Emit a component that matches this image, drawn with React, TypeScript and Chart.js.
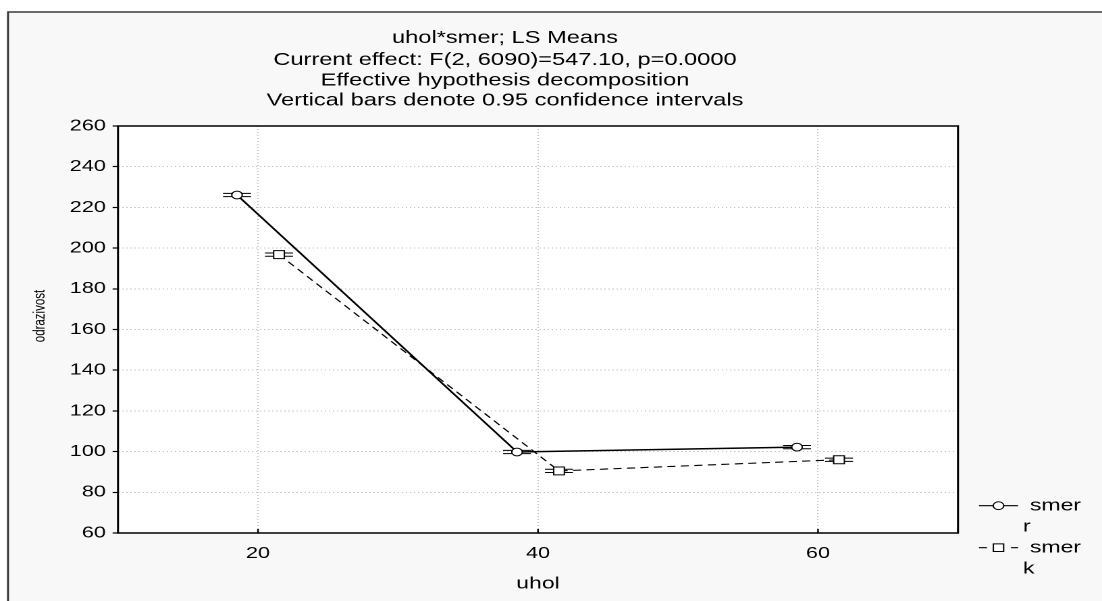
import React, { useEffect, useRef } from "react";
import { Chart, registerables } from "chart.js";

Chart.register(...registerables);

// ---------- data ----------
const categories = [20, 40, 60];
const seriesNames = ["smer r", "smer k"];
const smerR = [226.1, 99.8, 102.2];
const smerK = [196.8, 90.5, 96.0];
const ciR = [0.8, 0.8, 0.8];
const ciK = [0.8, 0.8, 0.8];
const xTicks = [20, 40, 60];
const yTicks = [60, 80, 100, 120, 140, 160, 180, 200, 220, 240, 260];
const titleLines = [
  "uhol*smer; LS Means",
  "Current effect: F(2, 6090)=547.10, p=0.0000",
  "Effective hypothesis decomposition",
  "Vertical bars denote 0.95 confidence intervals",
];
const xTitle = "uhol";
const yTitle = "odrazivost";

// ---------- layout ----------
const OUT_W = 1102;
const H = 601;
const W0 = 816; // unstretched canvas width
const S = OUT_W / W0; // horizontal stretch of the original picture
const DODGE = 1.5;
const FONT = '"Liberation Sans", Arial, Helvetica, sans-serif';
const ux = (x: number) => x / S;

const CHART_LEFT = ux(118);
const CHART_RIGHT = ux(958);
const CHART_TOP = 126;
const CHART_BOTTOM = 533;

const backgroundPlugin = {
  id: "bgFrame",
  beforeDraw(chart: any) {
    const { ctx, chartArea } = chart;
    ctx.save();
    ctx.fillStyle = "#ffffff";
    ctx.fillRect(0, 0, chart.width, chart.height);
    ctx.fillStyle = "#f8f8f8";
    ctx.fillRect(ux(8), 12, chart.width, chart.height);
    ctx.strokeStyle = "#3a3a3a";
    ctx.lineWidth = 1.5;
    ctx.beginPath();
    ctx.moveTo(ux(8), H);
    ctx.lineTo(ux(8), 12);
    ctx.lineTo(chart.width + 5, 12);
    ctx.stroke();
    ctx.fillStyle = "#ffffff";
    ctx.fillRect(chartArea.left, chartArea.top, chartArea.right - chartArea.left, chartArea.bottom - chartArea.top);
    ctx.restore();
  },
};

const errorBarPlugin = {
  id: "errBars",
  beforeDatasetsDraw(chart: any) {
    const { ctx } = chart;
    const yScale = chart.scales.y;
    const cis = [ciR, ciK];
    const vals = [smerR, smerK];
    const half = ux(14);
    ctx.save();
    ctx.strokeStyle = "#000";
    ctx.lineWidth = 1;
    chart.data.datasets.forEach((_ds: any, di: number) => {
      const meta = chart.getDatasetMeta(di);
      meta.data.forEach((pt: any, i: number) => {
        const v = vals[di][i];
        const c = cis[di][i];
        const yt = yScale.getPixelForValue(v + c);
        const yb = yScale.getPixelForValue(v - c);
        ctx.beginPath();
        ctx.moveTo(pt.x - half, yt);
        ctx.lineTo(pt.x + half, yt);
        ctx.moveTo(pt.x - half, yb);
        ctx.lineTo(pt.x + half, yb);
        ctx.moveTo(pt.x, yt);
        ctx.lineTo(pt.x, yb);
        ctx.stroke();
      });
    });
    ctx.restore();
  },
};

const decorPlugin = {
  id: "decor",
  afterDraw(chart: any) {
    const { ctx, chartArea } = chart;
    const xScale = chart.scales.x;
    ctx.save();
    // plot border
    ctx.strokeStyle = "#000";
    ctx.lineWidth = 1.5;
    ctx.strokeRect(chartArea.left, chartArea.top, chartArea.right - chartArea.left, chartArea.bottom - chartArea.top);
    // inward x ticks
    ctx.lineWidth = 1.2;
    ctx.beginPath();
    xTicks.forEach((v) => {
      const px = xScale.getPixelForValue(v);
      ctx.moveTo(px, chartArea.bottom);
      ctx.lineTo(px, chartArea.bottom - 4);
    });
    ctx.stroke();

    // titles
    ctx.fillStyle = "#000";
    ctx.textAlign = "center";
    ctx.textBaseline = "middle";
    ctx.font = `17.5px ${FONT}`;
    const ty = [38.3, 60, 80.7, 100.7];
    titleLines.forEach((t, i) => ctx.fillText(t, ux(505), ty[i]));

    // y axis title
    ctx.save();
    ctx.translate(ux(40), 316);
    ctx.rotate(-Math.PI / 2);
    ctx.font = `11.5px ${FONT}`;
    ctx.fillText(yTitle, 0, 0);
    ctx.restore();

    // legend
    ctx.font = `17px ${FONT}`;
    ctx.textAlign = "left";
    const rows = [505.7, 547.7];
    const x1 = ux(979);
    const x2 = ux(1018);
    const xc = (x1 + x2) / 2;
    seriesNames.forEach((name, i) => {
      const y = rows[i];
      const parts = name.split(" ");
      ctx.strokeStyle = "#000";
      ctx.lineWidth = 1.2;
      ctx.beginPath();
      if (i === 1) ctx.setLineDash([ux(8), ux(24)]);
      ctx.moveTo(x1, y);
      ctx.lineTo(x2, y);
      ctx.stroke();
      ctx.setLineDash([]);
      ctx.fillStyle = "#fff";
      ctx.lineWidth = 1;
      ctx.beginPath();
      if (i === 0) {
        ctx.arc(xc, y, 3.9, 0, Math.PI * 2);
      } else {
        ctx.rect(xc - 3.8, y - 3.8, 7.6, 7.6);
      }
      ctx.fill();
      ctx.stroke();
      ctx.fillStyle = "#000";
      ctx.fillText(parts[0], ux(1030), y);
      ctx.fillText(parts[1], ux(1023), y + 21);
    });
    ctx.restore();
  },
};

export default function App() {
  const ref = useRef<HTMLCanvasElement>(null);

  useEffect(() => {
    if (!ref.current) return;
    const chart = new Chart(ref.current, {
      type: "line",
      data: {
        datasets: [
          {
            label: seriesNames[0],
            data: categories.map((c, i) => ({ x: c - DODGE, y: smerR[i] })),
            borderColor: "#000",
            borderWidth: 1.5,
            pointStyle: "circle",
            pointRadius: 3.9,
            pointBackgroundColor: "#fff",
            pointBorderColor: "#000",
            pointBorderWidth: 1,
            tension: 0,
          },
          {
            label: seriesNames[1],
            data: categories.map((c, i) => ({ x: c + DODGE, y: smerK[i] })),
            borderColor: "#000",
            borderWidth: 1.1,
            borderDash: [6, 4],
            pointStyle: "rect",
            pointRadius: 5.6,
            pointBackgroundColor: "#fff",
            pointBorderColor: "#000",
            pointBorderWidth: 1,
            tension: 0,
          },
        ],
      },
      options: {
        animation: false,
        responsive: false,
        devicePixelRatio: 2,
        layout: {
          padding: { left: 0, right: W0 - CHART_RIGHT, top: CHART_TOP, bottom: 0 },
        },
        plugins: {
          legend: { display: false },
          title: { display: false },
          tooltip: { enabled: false },
        },
        scales: {
          x: {
            type: "linear",
            min: 10,
            max: 70,
            afterBuildTicks: (s: any) => {
              s.ticks = xTicks.map((v) => ({ value: v }));
            },
            afterFit: (s: any) => {
              s.height = H - CHART_BOTTOM;
            },
            grid: { color: "#c4c4c4", lineWidth: 1, drawTicks: false },
            border: { display: false, dash: [1, 2] },
            ticks: {
              color: "#000",
              font: { family: FONT, size: 16 },
              padding: 11,
              maxRotation: 0,
            },
            title: {
              display: true,
              text: xTitle,
              color: "#000",
              font: { family: FONT, size: 17 },
              padding: { top: 0, bottom: 7 },
            },
          },
          y: {
            type: "linear",
            min: 60,
            max: 260,
            afterBuildTicks: (s: any) => {
              s.ticks = yTicks.map((v) => ({ value: v }));
            },
            afterFit: (s: any) => {
              s.width = CHART_LEFT;
            },
            grid: {
              color: "#c4c4c4",
              lineWidth: 1,
              drawTicks: true,
              tickLength: 4,
              tickColor: "#000",
              tickWidth: 1.2,
            },
            border: { display: false, dash: [1, 2] },
            ticks: {
              color: "#000",
              font: { family: FONT, size: 16 },
              padding: 5,
            },
          },
        },
      },
      plugins: [backgroundPlugin, errorBarPlugin, decorPlugin],
    } as any);
    return () => chart.destroy();
  }, []);

  return (
    <div
      style={{
        position: "fixed",
        left: 0,
        top: 0,
        width: OUT_W,
        height: H,
        overflow: "hidden",
        background: "#fff",
      }}
    >
      <div style={{ width: W0, height: H, transform: `scaleX(${S})`, transformOrigin: "0 0" }}>
        <canvas ref={ref} width={W0} height={H} style={{ display: "block", width: W0, height: H }} />
      </div>
    </div>
  );
}
